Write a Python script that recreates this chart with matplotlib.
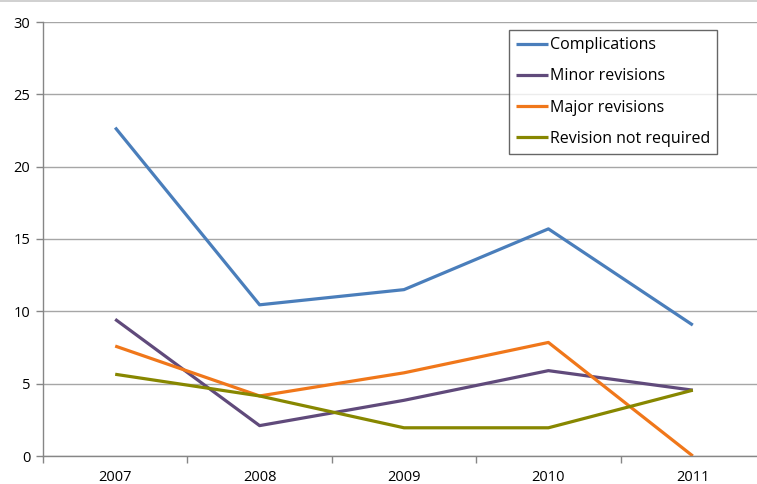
import matplotlib.pyplot as plt
from matplotlib.lines import Line2D

# Data
years = ['2007', '2008', '2009', '2010', '2011']
complications = [22.7, 10.45, 11.5, 15.7, 9.05]
minor_revisions = [9.45, 2.1, 3.85, 5.9, 4.55]
major_revisions = [7.6, 4.15, 5.75, 7.85, 0.0]
revision_not_required = [5.65, 4.15, 1.95, 1.95, 4.55]

series = [
    ('Complications', complications, '#4A7EBB'),
    ('Minor revisions', minor_revisions, '#604A7B'),
    ('Major revisions', major_revisions, '#F0771A'),
    ('Revision not required', revision_not_required, '#878700'),
]

plt.rcParams['font.family'] = ['Open Sans', 'DejaVu Sans']

W, H = 757, 484
fig = plt.figure(figsize=(W / 100, H / 100), dpi=100)
# plot area runs off the right edge of the picture, like the original crop
ax = fig.add_axes([43 / W, (H - 456) / H, (765 - 43) / W, (456 - 22) / H])

x = list(range(len(years)))
for name, vals, col in series:
    ax.plot(x, vals, color=col, lw=2.3, label=name, solid_capstyle='butt')

ax.set_xlim(-0.5, len(years) - 0.5)
ax.set_ylim(0, 30)
ax.set_yticks(range(0, 31, 5))
ax.set_xticks(x)
ax.set_xticklabels(years)
ax.set_xticks([i - 0.5 for i in range(len(years) + 1)], minor=True)
ax.tick_params(axis='x', which='major', length=0, pad=10, labelsize=10.5)
ax.tick_params(axis='x', which='minor', length=5, color='#868686', width=1)
ax.tick_params(axis='y', length=5, color='#868686', width=1, pad=4, labelsize=10.5)

ax.grid(axis='y', color='#a6a6a6', lw=1)
ax.set_axisbelow(True)
for side in ['top', 'right']:
    ax.spines[side].set_visible(False)
for side in ['left', 'bottom']:
    ax.spines[side].set_color('#868686')
    ax.spines[side].set_linewidth(1)

leg = ax.legend(loc='upper left', bbox_to_anchor=((509 - 43) / (765 - 43), (456 - 30) / (456 - 22)),
                frameon=True, fancybox=False, fontsize=11.5, handlelength=2.0,
                handletextpad=0.1, labelspacing=0.95, borderpad=0.45, borderaxespad=0)
leg.get_frame().set_edgecolor('#404040')
leg.get_frame().set_linewidth(1)

# thin grey border line along the top of the picture
fig.add_artist(Line2D([0, 1], [1 - 1 / H, 1 - 1 / H], transform=fig.transFigure,
                      color='#c8c8c8', lw=1.2))

fig.savefig('out.png', dpi=100)
